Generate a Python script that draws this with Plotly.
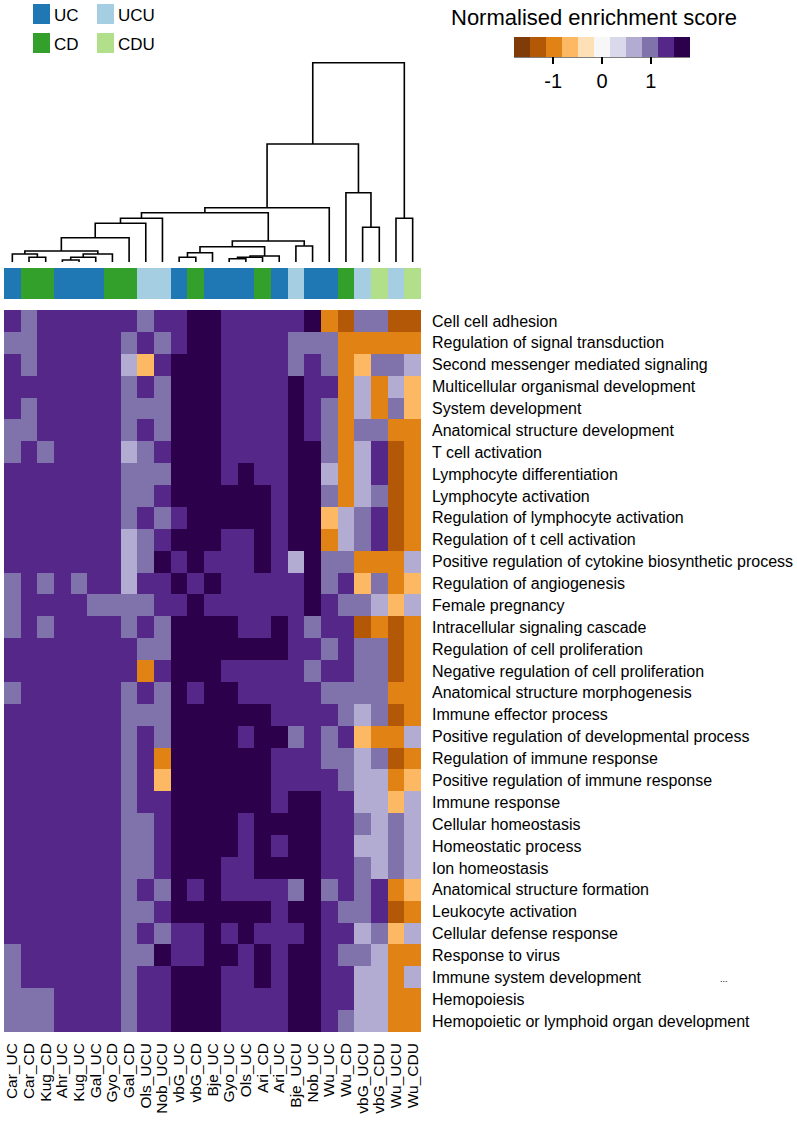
import plotly.graph_objects as go

# ---------------- data ----------------
samples = ["Car_UC", "Car_CD", "Kug_CD", "Ahr_UC", "Kug_UC", "Gal_UC", "Gyo_CD", "Gal_CD",
           "Ols_UCU", "Nob_UCU", "vbG_UC", "vbG_CD", "Bje_UC", "Gyo_UC", "Ols_UC", "Ari_CD",
           "Ari_UC", "Bje_UCU", "Nob_UC", "Wu_UC", "Wu_CD", "vbG_UCU", "vbG_CDU", "Wu_UCU", "Wu_CDU"]
group_names = ["UC", "CD", "UCU", "CDU"]
group_colors = ["#1f78b4", "#33a02c", "#a6cee3", "#b2df8a"]
sample_groups = [s.split("_")[1] for s in samples]

terms = ["Cell cell adhesion", "Regulation of signal transduction", "Second messenger mediated signaling",
         "Multicellular organismal development", "System development", "Anatomical structure development",
         "T cell activation", "Lymphocyte differentiation", "Lymphocyte activation",
         "Regulation of lymphocyte activation", "Regulation of t cell activation",
         "Positive regulation of cytokine biosynthetic process", "Regulation of angiogenesis",
         "Female pregnancy", "Intracellular signaling cascade", "Regulation of cell proliferation",
         "Negative regulation of cell proliferation", "Anatomical structure morphogenesis",
         "Immune effector process", "Positive regulation of developmental process",
         "Regulation of immune response", "Positive regulation of immune response", "Immune response",
         "Cellular homeostasis", "Homeostatic process", "Ion homeostasis", "Anatomical structure formation",
         "Leukocyte activation", "Cellular defense response", "Response to virus",
         "Immune system development", "Hemopoiesis", "Hemopoietic or lymphoid organ development"]

# colour-bin (0 = most negative ... 10 = most positive), one row per term
nes_bins = [
    [9,8,9,9,9,9,9,9,8,9,9,10,10, 9,9,9,9,9,10,2,1,8,8,1,1],
    [8,8,9,9,9,9,9,8,9,8,9,10,10, 9,9,9,9,8,8,8,2,2,2,2,2],
    [9,8,9,9,9,9,9,7,3,9,10,10,10, 9,9,9,9,8,9,8,2,3,8,8,7],
    [9,9,9,9,9,9,9,8,9,8,10,10,10, 9,9,9,9,10,9,9,2,7,2,7,3],
    [9,8,9,9,9,9,9,8,8,8,10,10,10, 9,9,9,9,10,9,8,2,7,2,8,3],
    [8,8,9,9,9,9,9,8,9,8,10,10,10, 9,9,9,9,10,9,8,2,8,8,2,2],
    [8,9,8,9,9,9,9,7,8,9,10,10,10, 9,9,9,9,10,10,8,2,7,9,1,2],
    [9,9,9,9,9,9,9,8,8,8,10,10,10, 9,10,9,9,10,10,7,2,7,9,1,2],
    [9,9,9,9,9,9,9,8,8,9,10,10,10, 10,10,10,9,10,10,8,2,7,8,1,2],
    [9,9,9,9,9,9,9,8,9,8,9,10,10, 10,10,10,9,10,10,3,7,8,9,1,2],
    [9,9,9,9,9,9,9,7,8,9,10,10,10, 9,9,10,9,10,10,2,7,8,9,1,2],
    [9,9,9,9,9,9,9,7,8,10,9,10,9, 9,9,10,9,7,10,8,8,2,2,2,7],
    [8,9,8,9,8,9,9,7,9,9,10,9,10, 9,9,9,9,9,10,8,9,3,8,2,3],
    [8,9,9,9,9,8,8,8,8,9,9,10,9, 9,9,9,9,9,10,9,8,8,7,3,7],
    [8,9,8,9,9,9,9,8,9,8,10,10,10, 10,9,9,10,9,8,9,9,1,2,1,2],
    [9,9,9,9,9,9,9,9,8,8,10,10,10, 10,10,10,10,9,9,8,9,8,8,1,2],
    [9,9,9,9,9,9,9,9,2,9,10,10,10, 9,9,9,9,9,8,9,9,8,8,1,2],
    [8,9,9,9,9,9,9,8,9,8,10,9,10, 10,9,9,9,9,9,8,8,8,8,2,2],
    [9,9,9,9,9,9,9,8,8,8,10,10,10, 10,10,10,9,9,9,9,8,7,8,1,2],
    [9,9,9,9,9,9,9,8,9,8,10,10,10, 10,9,10,10,8,9,8,9,3,2,2,7],
    [9,9,9,9,9,9,9,8,9,2,10,10,10, 10,10,10,9,9,9,8,8,7,8,1,2],
    [9,9,9,9,9,9,9,8,9,3,10,10,10, 10,10,10,9,9,9,9,8,7,7,2,3],
    [9,9,9,9,9,9,9,8,9,9,10,10,10, 10,10,10,9,10,10,9,9,7,7,3,7],
    [9,9,9,9,9,9,9,8,8,9,10,10,10, 10,9,10,10,10,10,9,9,8,7,8,7],
    [9,9,9,9,9,9,9,8,8,9,10,10,10, 10,9,10,9,10,10,9,9,7,7,8,7],
    [9,9,9,9,9,9,9,8,8,9,10,10,10, 9,9,10,10,10,10,9,9,8,7,8,7],
    [9,9,9,9,9,9,9,8,9,8,10,9,10, 9,9,9,9,8,10,8,9,8,9,2,3],
    [9,9,9,9,9,9,9,8,8,9,10,10,10, 10,10,10,9,10,10,9,8,8,9,1,2],
    [9,9,9,9,9,9,9,8,9,8,9,9,10, 9,10,9,9,9,10,9,9,7,8,3,7],
    [8,9,9,9,9,9,9,8,8,10,9,9,10, 10,9,10,9,10,10,9,8,8,7,2,2],
    [8,9,9,9,9,9,9,8,9,9,10,10,10, 9,9,10,9,10,10,9,9,7,7,2,7],
    [8,8,8,9,9,9,9,8,9,9,10,10,10, 9,9,9,9,10,10,9,9,7,7,2,2],
    [8,8,8,9,9,9,9,8,9,9,10,10,10, 9,9,9,9,10,10,9,8,7,7,2,2],
]

nes_min, nes_max = -1.8, 1.8
palette = ["#7f3b08", "#b35806", "#e08214", "#fdb863", "#fee0b6", "#f7f7f7",
           "#d8daeb", "#b2abd2", "#8073ac", "#542788", "#2d004b"]
cbar_ticks = [-1, 0, 1]
cbar_title = "Normalised enrichment score"

# dendrogram merges: ids < 25 are leaves (column positions), id 25+k is merge k
merge_left = [3, 13, 1, 25, 10, 26, 30, 0, 28, 29, 32, 34, 17, 36, 35, 21, 39, 41, 23, 42, 44, 20, 45, 47]
merge_right = [4, 14, 2, 5, 11, 15, 16, 27, 6, 12, 33, 31, 18, 37, 7, 22, 8, 9, 24, 38, 19, 40, 46, 43]
merge_height = [2, 3.3, 4.7, 4.7, 4.7, 4.7, 6, 8, 8, 9.3, 11, 15.3, 16, 21, 24.3, 34.7, 38.7, 43.7,
                43.7, 49.3, 54.3, 69.3, 118, 199.3]

# ---------------- build ----------------
W, H = 797, 1128
FONT = "Liberation Sans, Arial, Helvetica, sans-serif"
nb = len(palette)
step = (nes_max - nes_min) / nb
nes_values = [[nes_min + (b + 0.5) * step for b in row] for row in nes_bins]

cscale = []
for i, c in enumerate(palette):
    cscale.append([i / nb, c])
    cscale.append([(i + 1) / nb, c])

gscale = []
for i, c in enumerate(group_colors):
    gscale.append([i / 4, c])
    gscale.append([(i + 1) / 4, c])


def py(p):  # pixel y (from top) -> paper
    return 1 - p / H


fig = go.Figure()

fig.add_trace(go.Heatmap(
    z=nes_values, x=list(range(len(samples))), y=list(range(len(terms))),
    colorscale=cscale, zmin=nes_min, zmax=nes_max, hoverinfo="skip",
    colorbar=dict(
        orientation="h", x=602 / W, xanchor="center", y=py(37), yanchor="top",
        len=176, lenmode="pixels", thickness=20, thicknessmode="pixels",
        tickvals=cbar_ticks, ticktext=[str(t) for t in cbar_ticks],
        ticks="outside", ticklen=7, tickwidth=1.5, tickcolor="black",
        tickfont=dict(size=20, color="black", family=FONT),
        outlinewidth=0, xpad=0, ypad=0,
    ),
))

fig.add_trace(go.Heatmap(
    z=[[group_names.index(g) for g in sample_groups]], x=list(range(len(samples))), y=[0],
    colorscale=gscale, zmin=-0.5, zmax=3.5, showscale=False, hoverinfo="skip",
    xaxis="x", yaxis="y2",
))

# dendrogram segments
pos = {i: (float(i), 0.0) for i in range(len(samples))}
dx, dy = [], []
for k, (a, b, h) in enumerate(zip(merge_left, merge_right, merge_height)):
    xa, ha = pos[a]
    xb, hb = pos[b]
    dx += [xa, xa, xb, xb, None]
    dy += [ha, h, h, hb, None]
    pos[len(samples) + k] = ((xa + xb) / 2, h)

fig.add_trace(go.Scatter(x=dx, y=dy, mode="lines", line=dict(color="black", width=1.6),
                         xaxis="x", yaxis="y3", hoverinfo="skip", showlegend=False))

fig.update_layout(
    width=W, height=H, margin=dict(l=0, r=0, t=0, b=0),
    paper_bgcolor="white", plot_bgcolor="white", showlegend=False,
    font=dict(family=FONT, color="black"),
    xaxis=dict(domain=[4 / W, 421 / W], range=[-0.5, len(samples) - 0.5],
               tickvals=list(range(len(samples))), ticktext=samples, tickangle=-90,
               tickfont=dict(size=15.5, family=FONT, color="black"), ticks="",
               ticklabelstandoff=7, showgrid=False, zeroline=False, showline=False, anchor="y"),
    yaxis=dict(domain=[py(1032), py(310)], range=[len(terms) - 0.5, -0.5],
               tickvals=list(range(len(terms))), ticktext=terms, side="right",
               tickfont=dict(size=16, family=FONT, color="black"), ticks="",
               ticklabelstandoff=10, showgrid=False, zeroline=False, showline=False, anchor="x"),
    yaxis2=dict(domain=[py(299), py(268)], range=[-0.5, 0.5], visible=False, anchor="x"),
    yaxis3=dict(domain=[py(262), py(55)], range=[0, 207], visible=False, anchor="x"),
)

# colour-bar title and bottom edge line
fig.add_annotation(xref="paper", yref="paper", x=594 / W, y=py(18), text=cbar_title, showarrow=False,
                   xanchor="center", yanchor="middle", font=dict(size=22, family=FONT, color="black"))
fig.add_shape(type="line", xref="paper", yref="paper", x0=514 / W, x1=690 / W, y0=py(57), y1=py(57),
              line=dict(color="black", width=1))

# group legend (top-left)
legend_items = [("UC", 33, 4), ("UCU", 97, 4), ("CD", 33, 33), ("CDU", 97, 33)]
for name, lx, ly in legend_items:
    col = group_colors[group_names.index(name)]
    fig.add_shape(type="rect", xref="paper", yref="paper", x0=lx / W, x1=(lx + 17) / W,
                  y0=py(ly + 20), y1=py(ly), fillcolor=col, line=dict(width=0))
    fig.add_annotation(xref="paper", yref="paper", x=(lx + 19) / W, y=py(ly + 11), text=name,
                       showarrow=False, xanchor="left", yanchor="middle",
                       font=dict(size=17, family=FONT, color="black"))

fig.add_annotation(xref="paper", yref="paper", x=730 / W, y=py(986), text="...", showarrow=False,
                   font=dict(size=9, family=FONT, color="black"))

fig.write_html("out.html", config={"displayModeBar": False},
               post_script="document.body.style.margin='0';")
